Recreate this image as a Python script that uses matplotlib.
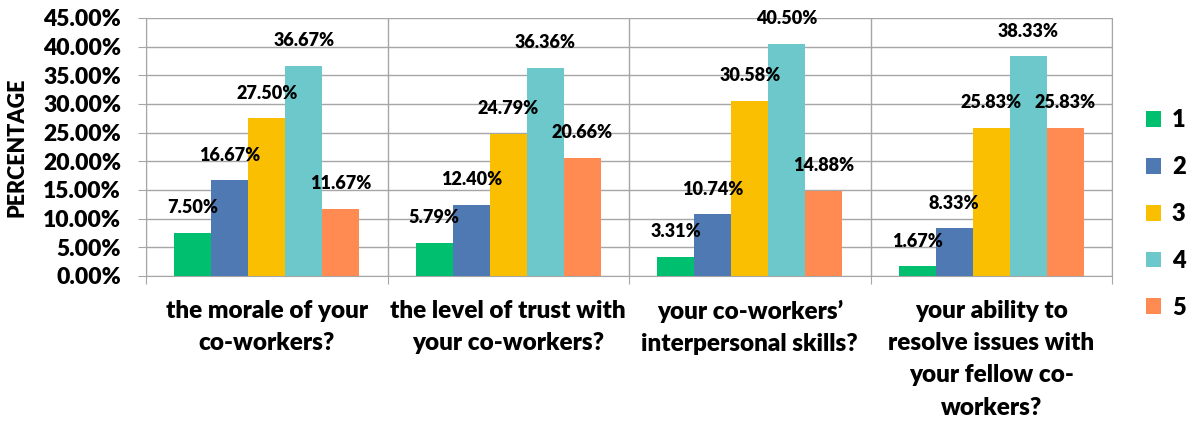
import matplotlib.pyplot as plt
import numpy as np
from matplotlib.ticker import FuncFormatter, FixedLocator

plt.rcParams['font.family'] = ['Lato', 'DejaVu Sans']
plt.rcParams['font.weight'] = 800
BOLD = 800

questions = ['the morale of your\nco-workers?',
             'the level of trust with\nyour co-workers?',
             'your co-workers\u2019\ninterpersonal skills?',
             'your ability to\nresolve issues with\nyour fellow co-\nworkers?']
ratings = ['1', '2', '3', '4', '5']
r1 = [7.50, 5.79, 3.31, 1.67]
r2 = [16.67, 12.40, 10.74, 8.33]
r3 = [27.50, 24.79, 30.58, 25.83]
r4 = [36.67, 36.36, 40.50, 38.33]
r5 = [11.67, 20.66, 14.88, 25.83]
series = [r1, r2, r3, r4, r5]
palette = ['#00BF6F', '#4E79B2', '#FABF00', '#6CC8CB', '#FF8A52']
gridc = '#A6A6A6'

fig = plt.figure(figsize=(11.94, 4.22), dpi=100)
ax = fig.add_axes([146 / 1194, 1 - 276 / 422, 966 / 1194, 258 / 422])

x = np.arange(len(questions))
w = 0.153
for k, (vals, col) in enumerate(zip(series, palette)):
    pos = x + (k - 2) * w
    ax.bar(pos, vals, width=w, color=col, label=ratings[k], zorder=3)
    for px, v in zip(pos, vals):
        ax.annotate(f'{v:.2f}%', (px, v), xytext=(0, 12), textcoords='offset points',
                    ha='center', va='bottom', fontsize=13, fontweight=BOLD, zorder=4)

ax.set_xlim(-0.5, len(questions) - 0.5)
ax.set_ylim(0, 45)
ax.set_yticks(np.arange(0, 46, 5))
ax.yaxis.set_major_formatter(FuncFormatter(lambda v, _: f'{v:.2f}%'))
ax.yaxis.grid(True, color=gridc, linewidth=1, zorder=0)

# category boundaries drawn as vertical grid lines
ax.xaxis.set_major_locator(FixedLocator(np.arange(-0.5, len(questions), 1.0)))
ax.xaxis.set_minor_locator(FixedLocator(x))
ax.set_xticklabels([])
ax.set_xticklabels(questions, minor=True, fontsize=17.5, fontweight=BOLD,
                   linespacing=1.58, va='top')
ax.xaxis.grid(True, which='major', color=gridc, linewidth=1, zorder=0)
ax.tick_params(axis='x', which='major', length=6, color=gridc)
ax.tick_params(axis='x', which='minor', length=0, pad=17)
ax.tick_params(axis='y', length=6, color=gridc, labelsize=16.5, pad=12)
for lab in ax.get_yticklabels():
    lab.set_fontweight(BOLD)

for side in ['top', 'left', 'bottom', 'right']:
    ax.spines[side].set_color(gridc)
ax.spines['top'].set_visible(False)

ax.set_ylabel('PERCENTAGE', fontsize=15.5, fontweight=BOLD)
ax.yaxis.set_label_coords(-118 / 966, 0.5)

leg = fig.legend(loc='center left', bbox_to_anchor=(1146 / 1194, 1 - 214 / 422),
                 frameon=False, fontsize=17, handlelength=0.65, handleheight=0.65,
                 labelspacing=1.05, handletextpad=0.45, borderaxespad=0, borderpad=0)
for t in leg.get_texts():
    t.set_fontweight(BOLD)

fig.savefig('out.png', dpi=100)
